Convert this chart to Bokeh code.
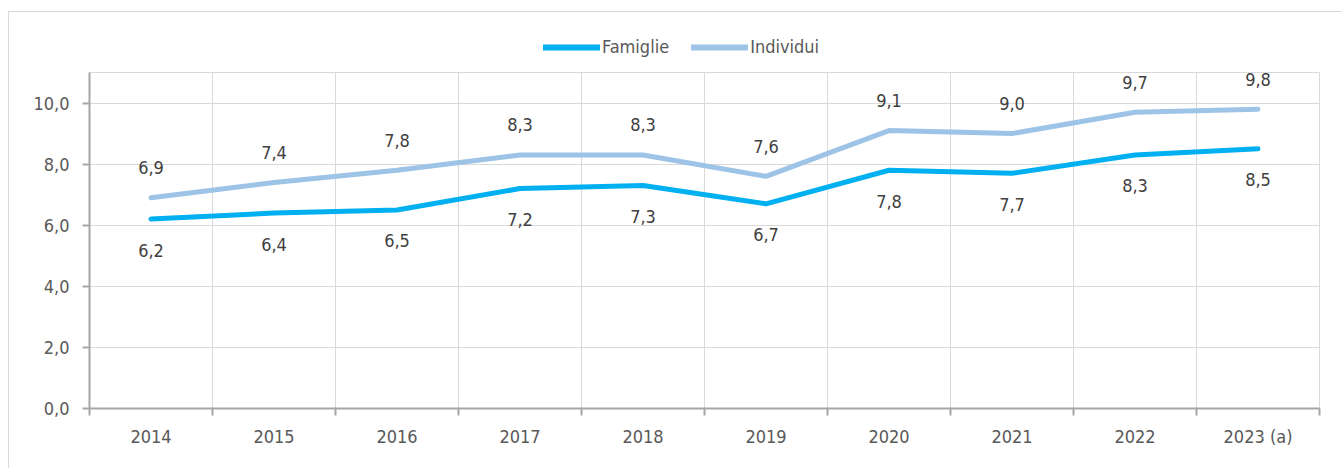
from bokeh.plotting import figure
from bokeh.layouts import column
from bokeh.models import ColumnDataSource, FixedTicker, LabelSet, Legend, LegendItem, Range1d
from bokeh.core.properties import value
from bokeh.embed import file_html
from bokeh.resources import INLINE

years = ["2014", "2015", "2016", "2017", "2018", "2019", "2020", "2021", "2022", "2023 (a)"]
famiglie = [6.2, 6.4, 6.5, 7.2, 7.3, 6.7, 7.8, 7.7, 8.3, 8.5]
individui = [6.9, 7.4, 7.8, 8.3, 8.3, 7.6, 9.1, 9.0, 9.7, 9.8]
y_ticks = [0, 2, 4, 6, 8, 10]
series_names = ["Famiglie", "Individui"]

FONT = "DejaVu Sans Condensed"
C_FAM = "#00b0f0"
C_IND = "#9dc3e6"
W = 1333

xs = [i + 0.5 for i in range(len(years))]
fmt = lambda v: f"{v:.1f}".replace(".", ",")
src = ColumnDataSource(dict(
    x=xs, fam=famiglie, ind=individui,
    fam_lbl=[fmt(v) for v in famiglie], ind_lbl=[fmt(v) for v in individui],
))

# ---- legend strip (series drawn outside its ranges, only the legend shows) ----
lg = figure(width=W, height=60, output_backend="svg", toolbar_location=None,
            x_range=Range1d(-3, -2), y_range=Range1d(-3, -2),
            x_axis_location=None, y_axis_location=None,
            min_border_left=0, min_border_right=0, min_border_top=0, min_border_bottom=0)
lg.grid.visible = False
lg.outline_line_color = None
lf = lg.line("x", "fam", source=src, line_color=C_FAM, line_width=6, line_cap="round")
li = lg.line("x", "ind", source=src, line_color=C_IND, line_width=6, line_cap="round")
legend = Legend(items=[LegendItem(label=series_names[0], renderers=[lf]),
                       LegendItem(label=series_names[1], renderers=[li])],
                orientation="horizontal", location=(454, 15),
                label_text_font=FONT, label_text_font_size="18px", label_text_color="#595959",
                glyph_width=57, glyph_height=20, label_standoff=2, spacing=22,
                padding=0, margin=0, border_line_color=None, background_fill_alpha=0)
lg.add_layout(legend, "center")

# ---- main chart ----
p = figure(width=W, height=396, output_backend="svg", toolbar_location=None,
           x_range=Range1d(0, len(years)), y_range=Range1d(0, 11),
           min_border_left=80, min_border_right=23, min_border_top=0, min_border_bottom=60)

p.outline_line_color = "#d9d9d9"
p.background_fill_color = "white"

p.xaxis.ticker = FixedTicker(ticks=xs, minor_ticks=list(range(len(years) + 1)))
p.xaxis.major_label_overrides = {x: y for x, y in zip(xs, years)}
p.xaxis.major_tick_out = 0
p.xaxis.major_tick_in = 0
p.xaxis.minor_tick_out = 7
p.xaxis.minor_tick_in = 0
p.xaxis.minor_tick_line_color = "#a6a6a6"
p.xaxis.minor_tick_line_width = 2
p.xaxis.axis_line_color = "#a6a6a6"
p.xaxis.axis_line_width = 2
p.xaxis.major_label_standoff = 10
p.xgrid.ticker = FixedTicker(ticks=list(range(len(years) + 1)))

p.yaxis.ticker = FixedTicker(ticks=y_ticks)
p.yaxis.major_label_overrides = {t: fmt(t) for t in y_ticks}
p.yaxis.major_tick_out = 7
p.yaxis.major_tick_in = 0
p.yaxis.minor_tick_line_color = None
p.yaxis.major_tick_line_color = "#a6a6a6"
p.yaxis.major_tick_line_width = 2
p.yaxis.axis_line_color = "#a6a6a6"
p.yaxis.axis_line_width = 2
p.yaxis.major_label_standoff = 13

for ax in (p.xaxis, p.yaxis):
    ax.major_label_text_font = FONT
    ax.major_label_text_font_size = "18px"
    ax.major_label_text_color = "#595959"

for g in (p.xgrid, p.ygrid):
    g.grid_line_color = "#d9d9d9"
    g.grid_line_width = 1

p.line("x", "fam", source=src, line_color=C_FAM, line_width=5, line_cap="round")
p.line("x", "ind", source=src, line_color=C_IND, line_width=5, line_cap="round")

lbl_kw = dict(text_font=value(FONT), text_font_size=value("18px"), text_color="#404040",
              text_align="center", text_baseline="middle")
p.add_layout(LabelSet(x="x", y="ind", text="ind_lbl", source=src, y_offset=30, **lbl_kw))
p.add_layout(LabelSet(x="x", y="fam", text="fam_lbl", source=src, y_offset=-31, **lbl_kw))

layout = column(lg, p, spacing=0, margin=(11, 0, 0, 8),
                styles={"border-top": "1px solid #d9d9d9", "border-left": "1px solid #d9d9d9"})

open("out.html", "w").write(file_html(layout, INLINE))
